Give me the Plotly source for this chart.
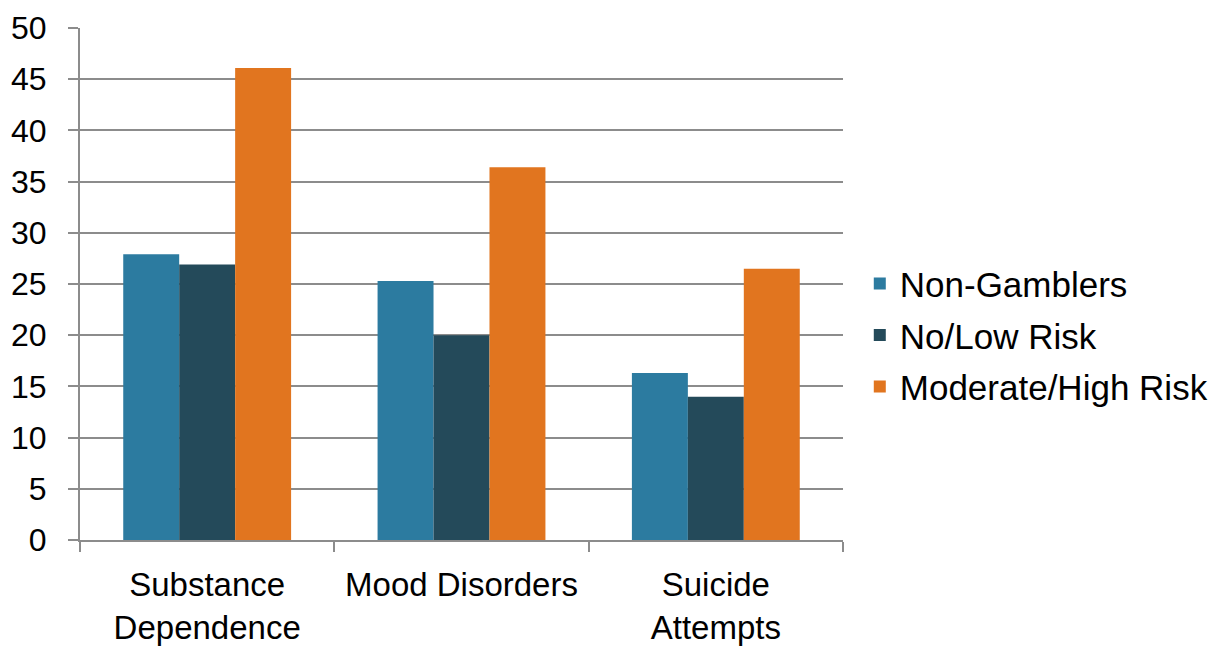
import plotly.graph_objects as go

categories = ["Substance<br>Dependence", "Mood Disorders", "Suicide<br>Attempts"]
series_names = ["Non-Gamblers", "No/Low Risk", "Moderate/High Risk"]
non_gamblers = [27.9, 25.3, 16.3]
no_low_risk = [26.9, 20.0, 14.0]
moderate_high_risk = [46.1, 36.4, 26.5]
colors = ["#2C7BA0", "#244A5A", "#E1751F"]
y_ticks = [0, 5, 10, 15, 20, 25, 30, 35, 40, 45, 50]

fig = go.Figure()
for i, (name, vals, col) in enumerate(zip(series_names, [non_gamblers, no_low_risk, moderate_high_risk], colors)):
    fig.add_trace(go.Bar(x=categories, y=vals, name=name, legendgroup="g%d" % i,
                         marker=dict(color=col, line=dict(width=0))))

font_family = "Liberation Sans, Arial, sans-serif"
fig.update_layout(
    width=1225, height=648,
    margin=dict(l=80, r=380, t=28, b=108),
    paper_bgcolor="white", plot_bgcolor="white",
    barmode="group", bargap=0.34, bargroupgap=0,
    font=dict(family=font_family, size=34, color="black"),
    legend=dict(x=1.022, y=0.40, xanchor="left", yanchor="middle",
                font=dict(size=35, family=font_family), tracegroupgap=3,
                traceorder="grouped", bgcolor="rgba(0,0,0,0)"),
    showlegend=True,
)
fig.update_yaxes(range=[0, 50], tickvals=y_ticks, showgrid=True, gridcolor="#8C8C8C", gridwidth=2,
                 showline=True, linecolor="#8C8C8C", linewidth=2, ticks="outside", ticklen=10,
                 tickcolor="#8C8C8C", tickwidth=2, ticklabelstandoff=15, zeroline=False,
                 automargin=False, tickfont=dict(size=32))
fig.update_xaxes(showline=True, linecolor="#8C8C8C", linewidth=2, ticks="outside", ticklen=10,
                 tickcolor="#8C8C8C", tickwidth=2, tickson="boundaries", ticklabelstandoff=14,
                 automargin=False, tickfont=dict(size=33))

fig.write_html("out.html")
